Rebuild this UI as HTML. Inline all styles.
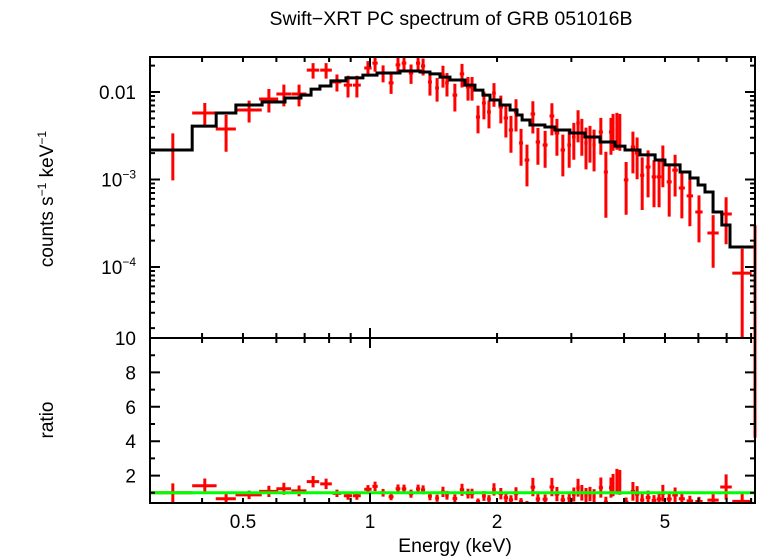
<!DOCTYPE html>
<html><head><meta charset="utf-8"><style>
html,body{margin:0;padding:0;background:#fff}
svg{display:block;font-family:"Liberation Sans",sans-serif}
</style></head><body>
<svg id="c" width="758" height="556" viewBox="0 0 758 556">
<text x="451" y="25" text-anchor="middle" font-size="19.5">Swift−XRT PC spectrum of GRB 051016B</text>
<text x="455" y="552" text-anchor="middle" font-size="19.5">Energy (keV)</text>
<text transform="translate(53,199) rotate(-90)" text-anchor="middle" font-size="19">counts s<tspan font-size="12" dy="-7">−1</tspan><tspan dy="7"> keV</tspan><tspan font-size="12" dy="-7">−1</tspan></text>
<text transform="translate(53,420) rotate(-90)" text-anchor="middle" font-size="19">ratio</text>
<g id="g"></g>
</svg>
<script>
const energy=[0.341,0.406,0.456,0.517,0.576,0.625,0.679,0.733,0.787,0.835,0.887,0.931,0.989,1.028,1.074,1.122,1.165,1.204,1.251,1.300,1.336,1.387,1.442,1.489,1.522,1.589,1.652,1.707,1.745,1.803,1.862,1.914,1.967,2.042,2.099,2.158,2.218,2.280,2.355,2.432,2.500,2.600,2.698,2.773,2.864,2.965,3.041,3.112,3.177,3.250,3.321,3.396,3.524,3.622,3.724,3.767,3.846,3.908,4.045,4.198,4.295,4.416,4.560,4.710,4.842,4.943,5.117,5.284,5.483,5.728,6.020,6.503,6.98,7.62];
const energyHalfWidth=[0.039,0.027,0.025,0.037,0.03,0.025,0.028,0.025,0.025,0.02,0.02,0.02,0.02,0.015,0.015,0.015,0.015,0.015,0.015,0.015,0.015,0.015,0.015,0.015,0.015,0.02,0.02,0.02,0.02,0.02,0.02,0.02,0.02,0.025,0.025,0.025,0.025,0.025,0.03,0.03,0.03,0.035,0.035,0.035,0.035,0.03,0.03,0.03,0.03,0.03,0.03,0.03,0.04,0.04,0.04,0.03,0.03,0.03,0.05,0.05,0.05,0.05,0.06,0.06,0.06,0.06,0.07,0.08,0.09,0.1,0.12,0.2,0.22,0.4];
const counts=[2.17e-3,5.75e-3,3.78e-3,6.23e-3,8.32e-3,9.5e-3,9.5e-3,1.78e-2,1.78e-2,1.30e-2,1.20e-2,1.20e-2,1.88e-2,2.14e-2,1.65e-2,1.27e-2,2.04e-2,2.14e-2,1.65e-2,2.14e-2,1.98e-2,1.30e-2,1.11e-2,1.56e-2,1.27e-2,9.2e-3,1.61e-2,1.14e-2,1.14e-2,5.18e-3,7.48e-3,5.9e-3,9.7e-3,6.74e-3,5.04e-3,3.68e-3,5.9e-3,2.61e-3,1.67e-3,5.6e-3,2.68e-3,2.48e-3,5.32e-3,3.40e-3,2.17e-3,2.48e-3,3.06e-3,4.42e-3,3.40e-3,2.61e-3,2.83e-3,2.48e-3,3.49e-3,1.22e-3,3.49e-3,3.88e-3,3.98e-3,3.88e-3,9.9e-4,2.35e-3,2.01e-3,1.12e-3,1.39e-3,1.07e-3,1.07e-3,1.63e-3,9.4e-4,1.28e-3,8.0e-4,6.5e-4,4.25e-4,2.45e-4,4.04e-4,8.5e-5];
const relErr=[0.55,0.3,0.45,0.28,0.3,0.28,0.28,0.2,0.2,0.22,0.28,0.28,0.2,0.2,0.22,0.25,0.2,0.2,0.25,0.2,0.22,0.3,0.3,0.28,0.3,0.35,0.3,0.3,0.3,0.35,0.35,0.35,0.3,0.35,0.4,0.45,0.4,0.45,0.5,0.4,0.45,0.45,0.4,0.45,0.5,0.45,0.45,0.4,0.45,0.5,0.45,0.5,0.45,0.7,0.45,0.45,0.45,0.45,0.6,0.5,0.5,0.6,0.55,0.55,0.55,0.5,0.6,0.5,0.55,0.55,0.55,0.6,0.55,0.9];
const modelEdges=[0.301,0.379,0.432,0.481,0.555,0.629,0.686,0.725,0.761,0.808,0.877,0.962,1.039,1.178,1.314,1.387,1.465,1.547,1.679,1.773,1.852,1.925,2.032,2.147,2.230,2.293,2.393,2.597,2.744,2.977,3.232,3.508,3.808,4.020,4.364,4.738,5.0,5.43,5.73,5.99,6.22,6.50,6.82,7.13,8.17];
const modelValues=[2.17e-3,4.08e-3,5.75e-3,7.1e-3,7.69e-3,8.53e-3,9.2e-3,1.08e-2,1.17e-2,1.34e-2,1.45e-2,1.56e-2,1.65e-2,1.74e-2,1.69e-2,1.61e-2,1.48e-2,1.37e-2,1.20e-2,1.05e-2,9.2e-3,8.1e-3,7.1e-3,6.23e-3,5.46e-3,4.79e-3,4.2e-3,3.98e-3,3.68e-3,3.4e-3,3.06e-3,2.68e-3,2.41e-3,2.17e-3,1.91e-3,1.67e-3,1.47e-3,1.22e-3,1.04e-3,8.65e-4,7.2e-4,4.25e-4,3.02e-4,1.69e-4];
const xTickLabels=[0.5,1,2,5];
const yTopLabels=[["0.01",-2],["10","-3"],["10","-4"]];
const ratioTickLabels=[2,4,6,8,10];

const L=150,R=755,T=57,M=338,B=503;
const X=e=>370+422*Math.log10(e);
const Y=c=>92-87.5*(Math.log10(c)+2);
const YR=r=>338+(10-r)*17.2;
const g=document.getElementById('g');
const NS='http://www.w3.org/2000/svg';
function mk(t,a,p){const e=document.createElementNS(NS,t);for(const k in a)e.setAttribute(k,a[k]);(p||g).appendChild(e);return e;}
function modelAt(e){for(let i=0;i<modelValues.length;i++){if(e>=modelEdges[i]&&e<modelEdges[i+1])return modelValues[i];}return modelValues[modelValues.length-1];}
const clipT=mk('clipPath',{id:'ct'});mk('rect',{x:L,y:T,width:R-L,height:M-T},clipT);
const clipB=mk('clipPath',{id:'cb'});mk('rect',{x:L,y:M,width:R-L,height:B-M},clipB);
const gt=mk('g',{'clip-path':'url(#ct)'});


const gb=mk('g',{'clip-path':'url(#cb)'});


energy.forEach((e,i)=>{
  const c=counts[i],er=c*relErr[i];
  const lo=Math.max(c-er,1e-6);
  const x=X(e),y=Y(c);
  const p=mk('path',{d:`M${X(e-energyHalfWidth[i])},${y}H${X(e+energyHalfWidth[i])}M${x},${Y(c+er)}V${Y(lo)}`,stroke:'#f00','stroke-width':3,fill:'none'},gt);
  
  
  const m=modelAt(e),r=c/m,rer=er/m;
  const q=mk('path',{d:`M${X(e-energyHalfWidth[i])},${YR(r)}H${X(e+energyHalfWidth[i])}M${x},${YR(r+rer)}V${YR(r-rer)}`,stroke:'#f00','stroke-width':3,fill:'none'},gb);
  
  
});
let d='';
modelValues.forEach((v,i)=>{const x0=X(modelEdges[i]),x1=X(modelEdges[i+1]),y=Y(v);d+=(i?'V':'M'+x0+',')+y+'H'+x1;});
const ml=mk('path',{d:d,stroke:'#000','stroke-width':3,fill:'none'},gt);


const gl=mk('line',{x1:L,x2:R,y1:YR(1),y2:YR(1),stroke:'#0f0','stroke-width':3},gb);


const eb=mk('line',{x1:R,x2:R,y1:Y(3e-4),y2:M,stroke:'#f00','stroke-width':3});


const eb2=mk('line',{x1:R,x2:R,y1:M,y2:YR(4.2),stroke:'#f00','stroke-width':3});


[[T,M],[M,B]].forEach(([t,b])=>{const f=mk('rect',{x:L,y:t,width:R-L,height:b-t,fill:'none',stroke:'#000','stroke-width':2});

});
let td='';
for(const e of [0.4,0.5,0.6,0.7,0.8,0.9,1,2,3,4,5,6,7,8]){const x=X(e),len=(e===1)?10:5;
 td+=`M${x},${T}v${len}M${x},${M}v${-len}M${x},${M}v${len}M${x},${B}v${-len}`;}
for(let dec=-5;dec<=-2;dec++){for(let k=1;k<=9;k++){const v=k*Math.pow(10,dec);const y=Y(v);if(y<T||y>M)continue;const len=k===1?10:5;td+=`M${L},${y}h${len}M${R},${y}h${-len}`;}}
for(let r=1;r<=10;r++){const y=YR(r);const len=r%2===0?10:5;td+=`M${L},${y}h${len}M${R},${y}h${-len}`;}
const tk=mk('path',{d:td,stroke:'#000','stroke-width':2,fill:'none'});


xTickLabels.forEach(e=>{const t=mk('text',{x:X(e),y:528,'text-anchor':'middle','font-size':19});t.textContent=String(e);

});
yTopLabels.forEach(([b,ex])=>{const v=typeof ex==='number'?0.01:Math.pow(10,+ex);const t=mk('text',{x:136,y:Y(v)+7,'text-anchor':'end','font-size':19});
 t.textContent=b;if(typeof ex!=='number'){const s=mk('tspan',{'font-size':12,dy:-8},t);s.textContent='−'+ex.slice(1);}
 
 });
ratioTickLabels.forEach(r=>{const t=mk('text',{x:136,y:YR(r)+7,'text-anchor':'end','font-size':19});t.textContent=String(r);

});
</script>
</body></html>
